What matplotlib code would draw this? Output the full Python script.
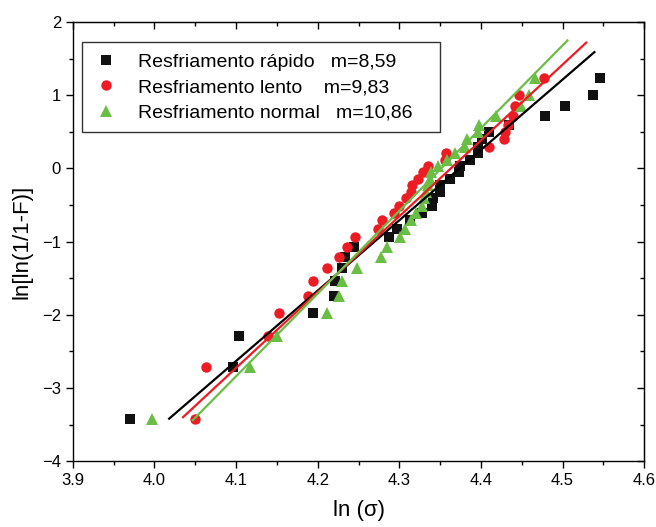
import matplotlib.pyplot as plt
from matplotlib.ticker import MultipleLocator

plt.rcParams['font.family'] = ['Liberation Sans', 'DejaVu Sans']

# ln[ln(1/(1-F))] levels (same ranks for the three series)
y_rank = [-3.42, -2.71, -2.29, -1.98, -1.74, -1.54, -1.36, -1.21, -1.07, -0.94,
          -0.83, -0.71, -0.61, -0.51, -0.41, -0.32, -0.23, -0.14, -0.05, 0.03,
          0.12, 0.21, 0.30, 0.40, 0.50, 0.60, 0.72, 0.85, 1.01, 1.23]

# ln(sigma) for each series
x_rapido = [3.970, 4.096, 4.103, 4.194, 4.220, 4.221, 4.230, 4.233, 4.244, 4.287,
            4.297, 4.313, 4.328, 4.340, 4.341, 4.350, 4.350, 4.362, 4.373, 4.374,
            4.387, 4.396, 4.396, 4.401, 4.410, 4.434, 4.478, 4.503, 4.537, 4.546]
x_lento = [4.050, 4.063, 4.139, 4.152, 4.188, 4.194, 4.212, 4.226, 4.236, 4.246,
           4.274, 4.279, 4.293, 4.300, 4.308, 4.314, 4.315, 4.323, 4.329, 4.335,
           4.356, 4.357, 4.410, 4.428, 4.429, 4.433, 4.439, 4.442, 4.447, 4.477]
x_normal = [3.997, 4.117, 4.150, 4.211, 4.226, 4.230, 4.248, 4.277, 4.285, 4.301,
            4.307, 4.314, 4.320, 4.328, 4.330, 4.333, 4.335, 4.338, 4.339, 4.347,
            4.358, 4.368, 4.380, 4.383, 4.396, 4.398, 4.418, 4.449, 4.459, 4.466]

# fitted lines (end points)
fit_rapido_x, fit_rapido_y = [4.018, 4.539], [-3.42, 1.59]
fit_lento_x, fit_lento_y = [4.035, 4.529], [-3.40, 1.72]
fit_normal_x, fit_normal_y = [4.047, 4.506], [-3.44, 1.75]

labels = ["Resfriamento rápido   m=8,59      ",
          "Resfriamento lento    m=9,83",
          "Resfriamento normal   m=10,86   "]

preto = "#111111"
vermelho = "#ED1C24"
verde = "#6ABD45"

fig = plt.figure(figsize=(6.56, 5.27), dpi=100)
ax = fig.add_axes([0.111, 0.125, 0.871, 0.833])

ax.plot(x_rapido, y_rank, 's', color=preto, ms=6.8, mew=0, label=labels[0])
ax.plot(x_lento, y_rank, 'o', color=vermelho, ms=7.5, mew=0, label=labels[1])
ax.plot(x_normal, y_rank, '^', color=verde, ms=8.5, mew=0, label=labels[2])

ax.plot(fit_rapido_x, fit_rapido_y, '-', color='black', lw=1.6)
ax.plot(fit_lento_x, fit_lento_y, '-', color=vermelho, lw=1.6)
ax.plot(fit_normal_x, fit_normal_y, '-', color=verde, lw=1.6)

ax.set_xlim(3.9, 4.6)
ax.set_ylim(-4, 2)
ax.xaxis.set_major_locator(MultipleLocator(0.1))
ax.xaxis.set_minor_locator(MultipleLocator(0.05))
ax.yaxis.set_major_locator(MultipleLocator(1))
ax.yaxis.set_minor_locator(MultipleLocator(0.5))
ax.tick_params(which='major', direction='out', length=5, width=1, labelsize=12)
ax.tick_params(which='minor', direction='out', length=3, width=1)

# mirrored ticks on top and right, pointing inwards
top = ax.secondary_xaxis('top')
top.xaxis.set_major_locator(MultipleLocator(0.1))
top.xaxis.set_minor_locator(MultipleLocator(0.05))
top.tick_params(which='major', direction='in', length=5, width=1, labeltop=False)
top.tick_params(which='minor', direction='in', length=3, width=1)
right = ax.secondary_yaxis('right')
right.yaxis.set_major_locator(MultipleLocator(1))
right.yaxis.set_minor_locator(MultipleLocator(0.5))
right.tick_params(which='major', direction='in', length=5, width=1, labelright=False)
right.tick_params(which='minor', direction='in', length=3, width=1)

for s in ax.spines.values():
    s.set_linewidth(1)

ax.set_xlabel("ln (σ)", fontsize=16, labelpad=9)
ax.set_ylabel("ln[ln(1/1-F)]", fontsize=16, labelpad=7)

leg = ax.legend(loc='upper left', bbox_to_anchor=(0.016, 0.954), borderaxespad=0,
                fontsize=14, frameon=True, fancybox=False, edgecolor='black',
                handletextpad=0.95, labelspacing=0.4, borderpad=0.55,
                handlelength=1.4)
leg.get_frame().set_linewidth(1)

fig.savefig("out.png", dpi=100)
